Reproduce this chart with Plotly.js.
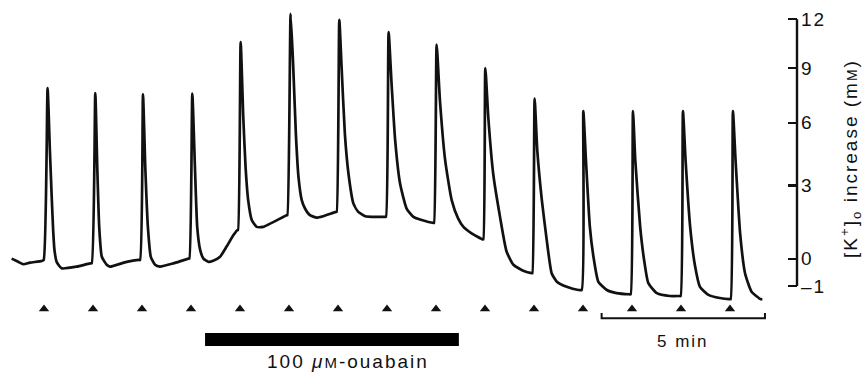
<!DOCTYPE html>
<html>
<head>
<meta charset="utf-8">
<script src="https://cdn.plot.ly/plotly-3.0.1.min.js"></script>
<style>
html,body{margin:0;padding:0;background:#fff}
#chart{width:865px;height:374px}
#chart .ytick text, #chart .annotation-text{letter-spacing:2px}
</style>
</head>
<body>
<div id="chart"></div>
<script>
// Time (min) of the recording, stimulus at t = 0, 1.5, 3 ... min
const time = [
-0.99,-0.79,-0.63,-0.43,-0.07,-0.01,0.11,0.18,0.24,0.28,0.32,0.39,0.54,1.00,1.41,
1.46,1.57,1.63,1.69,1.77,1.92,2.02,2.53,2.89,
2.94,3.03,3.10,3.18,3.27,3.40,3.55,3.96,4.42,
4.45,4.54,4.62,4.69,4.78,4.88,5.03,5.18,5.39,5.59,5.80,5.92,
5.94,6.02,6.10,6.17,6.25,6.36,6.51,6.71,7.43,
7.45,7.55,7.63,7.71,7.79,7.89,7.99,8.14,8.35,8.55,8.94,
8.96,9.04,9.11,9.21,9.32,9.47,9.62,9.83,10.19,10.44,
10.47,10.55,10.64,10.75,10.90,11.10,11.31,11.56,11.92,
11.94,12.02,12.12,12.28,12.48,12.68,12.84,13.09,13.43,
13.45,13.51,13.60,13.75,13.96,14.16,14.37,14.67,14.93,
14.95,15.02,15.10,15.24,15.39,15.54,15.70,16.00,16.36,
16.46,16.51,16.59,16.71,16.82,16.97,17.23,17.53,17.92,
17.96,18.03,18.10,18.25,18.37,18.50,18.76,19.16,19.45,
19.49,19.56,19.64,19.78,19.93,20.08,20.34,20.69,20.98,
21.02,21.09,21.17,21.31,21.46,21.66,21.94,21.99
];
// [K+]o increase (mM)
const kIncrease = [
0.00,-0.12,-0.21,-0.15,-0.09,-0.05,7.85,4.63,2.36,1.11,0.33,-0.13,-0.36,-0.30,-0.18,
-0.18,7.58,3.85,1.24,0.07,-0.23,-0.30,-0.12,-0.05,
-0.05,7.51,3.85,1.24,0.07,-0.23,-0.30,-0.18,0.00,
0.00,7.55,3.85,1.24,0.33,0.00,-0.12,-0.08,0.07,0.46,0.91,1.11,
1.11,10.56,6.30,3.85,2.36,1.52,1.24,1.24,1.72,
1.72,12.36,9.05,5.45,3.39,2.36,2.00,1.72,1.62,1.68,1.86,
1.86,11.97,9.05,5.45,3.54,2.22,1.86,1.68,1.65,1.65,
1.65,11.18,8.10,5.12,3.09,2.00,1.65,1.52,1.40,
1.40,10.40,7.19,4.16,2.36,1.58,1.24,0.98,0.74,
0.74,9.00,6.30,3.54,1.65,0.27,-0.23,-0.45,-0.54,
-0.54,7.28,4.63,2.36,0.71,-0.54,-0.85,-1.03,-1.14,
-1.14,6.61,4.16,1.24,0.07,-0.85,-1.14,-1.25,-1.29,
-1.29,6.61,4.16,1.24,-0.05,-0.90,-1.25,-1.35,-1.35,
-1.35,6.61,4.16,1.24,-0.28,-1.03,-1.31,-1.42,-1.46,
-1.46,6.61,4.16,0.98,-0.54,-1.20,-1.46,-1.46
];
// Stimulus times (min) marked by triangles
const stimTimes = [0,1.5,3,4.5,6,7.5,9,10.5,12,13.5,15,16.5,18,19.5,21];
// Right axis ticks ([K+]o increase, mM)
const tickValues = [-1,0,3,6,9,12];
const tickLabels = ['\u20131','0','3','6','9','12'];
// Ouabain application period (min)
const ouabainStart = 4.93, ouabainEnd = 12.70;
// Time scale bar
const scaleStart = 17.07, scaleLength = 5;

// electrode (log) scale: plotted on a log axis of (baseline + increase)
const K0 = 16.5;
const yPlot = kIncrease.map(v => v + K0);
const markerRow = K0 - 1.79;

const font = 'Liberation Sans, Arial, Helvetica, sans-serif';
const xDomEnd = 797/865;

const traces = [
  {x: time, y: yPlot, type: 'scatter', mode: 'lines',
   line: {color: '#111', width: 2.7, shape: 'spline', smoothing: 0.5}, hoverinfo: 'skip'},
  {x: stimTimes, y: stimTimes.map(() => markerRow), type: 'scatter', mode: 'markers',
   marker: {symbol: 'triangle-up', size: 9, color: '#111'}, hoverinfo: 'skip'}
];

const layout = {
  width: 865, height: 374,
  margin: {l: 0, r: 0, t: 0, b: 0},
  paper_bgcolor: '#fff', plot_bgcolor: '#fff',
  showlegend: false,
  font: {family: font, color: '#111'},
  xaxis: {range: [-1.3469, 23.051], domain: [0, xDomEnd], visible: false, fixedrange: true},
  yaxis: {type: 'log', range: [1.10305, 1.47398], side: 'right', anchor: 'x',
          showgrid: false, zeroline: false, showline: false,
          tickvals: tickValues.map(v => v + K0), ticktext: tickLabels,
          ticks: 'inside', ticklen: 9, tickwidth: 2.2, tickcolor: '#111',
          ticklabelstandoff: 3,
          tickfont: {size: 19, family: font, color: '#111'}},
  shapes: [
    {type: 'line', xref: 'paper', yref: 'y', x0: xDomEnd, x1: xDomEnd,
     y0: tickValues[0] + K0, y1: tickValues[tickValues.length-1] + K0,
     line: {color: '#111', width: 2.4}},
    {type: 'rect', xref: 'x', yref: 'paper', x0: ouabainStart, x1: ouabainEnd,
     y0: 1 - 346/374, y1: 1 - 333/374, fillcolor: '#000', line: {width: 0}},
    {type: 'path', xref: 'x', yref: 'paper',
     path: `M ${scaleStart},${1-313/374} L ${scaleStart},${1-318.3/374} L ${scaleStart+scaleLength},${1-318.3/374} L ${scaleStart+scaleLength},${1-313/374}`,
     line: {color: '#111', width: 2}}
  ],
  annotations: [
    {text: '5 min', xref: 'x', yref: 'paper', x: scaleStart + scaleLength/2, y: 1 - 341/374,
     showarrow: false, xanchor: 'center', yanchor: 'middle', font: {size: 17, family: font}},
    {text: '100 <i>\u03bc</i><span style="font-size:15px">M</span>-ouabain', xref: 'x', yref: 'paper',
     x: 9.32, y: 1 - 361/374, showarrow: false, xanchor: 'center', yanchor: 'middle',
     font: {size: 19, family: font}},
    {text: '[K<sup>+</sup>]<sub>o</sub> increase (m<span style="font-size:14px">M</span>)',
     xref: 'paper', yref: 'paper', x: 851/865, y: 1 - 159/374, textangle: -90,
     showarrow: false, xanchor: 'center', yanchor: 'middle', font: {size: 19, family: font}}
  ]
};

Plotly.newPlot('chart', traces, layout, {staticPlot: true, displayModeBar: false});
</script>
</body>
</html>
